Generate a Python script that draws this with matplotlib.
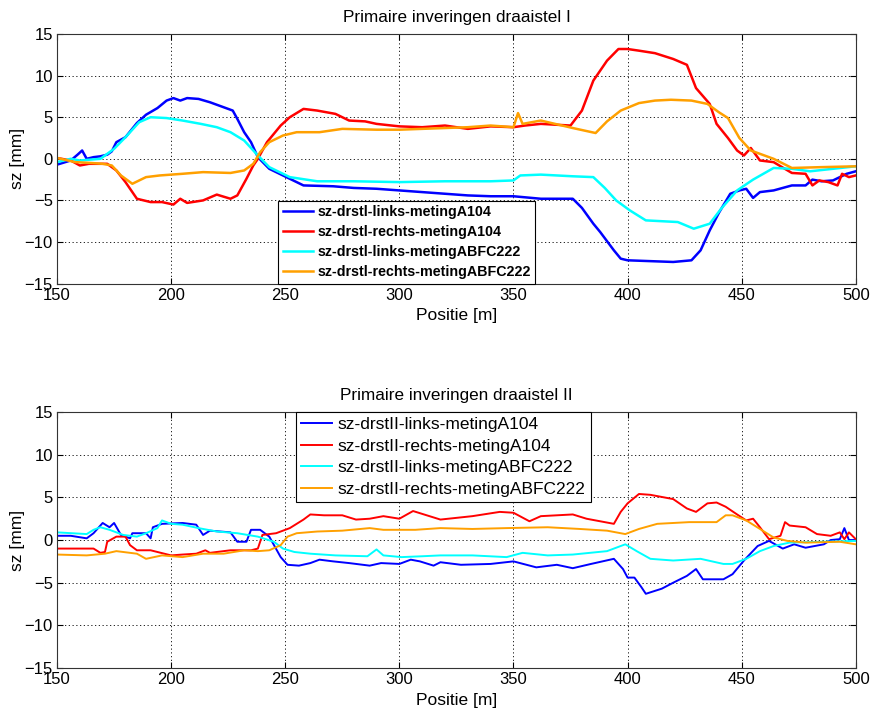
import matplotlib
matplotlib.use("Agg")
import matplotlib.pyplot as plt

plt.rcParams["font.family"] = ["Liberation Sans", "DejaVu Sans"]

# ---- draaistel I ----
top_blue_pos = [150, 156, 159, 161, 163, 166, 169, 172, 174, 176, 180, 185, 189, 194, 198, 201,
                204, 207, 212, 217, 223, 227, 229, 232, 235, 238, 243, 252, 258, 271, 280, 290,
                300, 310, 320, 330, 340, 350, 362, 376, 380, 385, 388, 394, 397, 400, 410, 420,
                428, 432, 436, 440, 445, 449, 452, 455, 458, 464, 472, 478, 481, 485, 490, 496, 500]
top_blue_val = [-0.7, -0.2, 0.5, 1.0, 0.0, 0.2, 0.3, 0.5, 0.9, 2.0, 2.6, 4.3, 5.3, 6.1, 7.0, 7.3,
                7.0, 7.3, 7.2, 6.8, 6.2, 5.8, 4.8, 3.2, 2.0, 0.2, -1.2, -2.4, -3.2, -3.3, -3.5, -3.6,
                -3.8, -4.0, -4.2, -4.4, -4.5, -4.5, -4.8, -4.8, -5.9, -7.8, -8.8, -11.0, -12.0, -12.2, -12.3, -12.4,
                -12.2, -11.0, -8.6, -6.5, -4.2, -3.8, -3.6, -4.7, -4.0, -3.8, -3.2, -3.2, -2.5, -2.7, -2.6, -1.8, -1.5]

top_red_pos = [150, 156, 160, 164, 172, 176, 180, 185, 191, 196, 201, 204, 207, 214, 220, 226,
               229, 233, 236, 238, 242, 248, 252, 258, 264, 272, 278, 285, 290, 300, 310, 320,
               330, 340, 350, 355, 362, 375, 380, 385, 391, 396, 400, 405, 412, 420, 426, 430,
               436, 439, 444, 448, 451, 454, 458, 464, 472, 478, 481, 484, 488, 492, 494, 497, 500]
top_red_val = [0.1, -0.2, -0.8, -0.6, -0.6, -1.4, -2.8, -4.8, -5.2, -5.2, -5.5, -4.8, -5.3, -5.0, -4.3, -4.8,
               -4.4, -2.4, -0.8, 0.0, 2.0, 4.0, 5.0, 6.0, 5.8, 5.4, 4.6, 4.5, 4.2, 3.9, 3.8, 4.0,
               3.6, 3.9, 3.8, 4.0, 4.2, 4.0, 5.8, 9.4, 11.8, 13.2, 13.2, 13.0, 12.7, 12.0, 11.3, 8.5,
               6.6, 4.2, 2.5, 1.0, 0.4, 1.3, -0.2, -0.4, -1.7, -1.8, -3.2, -2.6, -2.8, -3.2, -1.8, -2.2, -2.0]

top_cyan_pos = [150, 156, 160, 169, 175, 180, 186, 191, 198, 205, 213, 220, 226, 232, 238, 243,
                252, 264, 280, 300, 320, 340, 350, 353, 362, 376, 385, 390, 395, 401, 408, 415,
                422, 429, 436, 441, 448, 455, 464, 472, 480, 490, 500]
top_cyan_val = [-0.4, 0.0, -0.2, 0.0, 1.2, 2.6, 4.4, 5.0, 4.9, 4.6, 4.2, 3.8, 3.2, 2.2, 0.4, -1.0,
                -2.2, -2.7, -2.7, -2.8, -2.7, -2.7, -2.6, -2.0, -1.9, -2.1, -2.2, -3.5, -5.0, -6.2, -7.4, -7.5,
                -7.6, -8.4, -7.8, -6.0, -3.8, -2.5, -1.1, -1.2, -1.5, -1.2, -0.9]

top_orange_pos = [150, 158, 165, 170, 174, 178, 183, 189, 195, 205, 214, 226, 232, 236, 239, 243,
                  249, 255, 265, 275, 290, 300, 310, 320, 330, 340, 350, 352, 354, 362, 376, 386,
                  391, 397, 405, 412, 419, 428, 435, 440, 444, 449, 454, 464, 472, 485, 500]
top_orange_val = [0.1, -0.4, -0.5, -0.6, -0.8, -2.0, -3.0, -2.2, -2.0, -1.8, -1.6, -1.7, -1.4, -0.6, 0.8, 2.0,
                  2.8, 3.2, 3.2, 3.6, 3.5, 3.5, 3.6, 3.7, 3.8, 4.0, 3.8, 5.5, 4.2, 4.6, 3.7, 3.1,
                  4.5, 5.8, 6.7, 7.0, 7.1, 7.0, 6.6, 5.6, 4.9, 2.5, 1.0, 0.0, -1.1, -1.0, -0.9]

# ---- draaistel II ----
bot_blue_pos = [150, 156, 163, 166, 170, 173, 175, 178, 182, 183, 189, 191, 192, 196, 205, 211,
                214, 217, 226, 229, 233, 235, 239, 243, 248, 251, 256, 261, 265, 271, 278, 287,
                292, 300, 305, 309, 315, 318, 327, 340, 350, 360, 369, 376, 384, 394, 398, 400,
                403, 406, 408, 415, 420, 426, 430, 433, 442, 446, 451, 457, 462, 468, 473, 478,
                486, 489, 493, 495, 497, 500]
bot_blue_val = [0.5, 0.5, 0.2, 0.8, 2.0, 1.5, 2.0, 0.6, 0.2, 0.8, 0.8, 0.2, 1.5, 1.9, 2.0, 1.8,
                0.6, 1.1, 0.9, -0.2, -0.2, 1.2, 1.2, 0.4, -2.0, -2.9, -3.0, -2.7, -2.3, -2.5, -2.7, -3.0,
                -2.7, -2.8, -2.3, -2.5, -3.0, -2.6, -2.9, -2.8, -2.5, -3.2, -2.9, -3.3, -2.8, -2.2, -3.4, -4.4,
                -4.4, -5.5, -6.3, -5.7, -5.0, -4.2, -3.4, -4.6, -4.6, -4.0, -2.4, -0.7, -0.1, -1.0, -0.5, -0.9,
                -0.5, 0.0, 0.1, 1.4, 0.0, 0.0]

bot_red_pos = [150, 163, 166, 169, 171, 172, 176, 180, 182, 185, 191, 194, 200, 205, 211, 215,
               217, 226, 235, 238, 240, 246, 252, 258, 261, 267, 275, 281, 287, 293, 300, 306,
               312, 318, 332, 344, 350, 357, 362, 376, 382, 394, 397, 400, 405, 410, 420, 426,
               430, 435, 439, 443, 448, 452, 455, 458, 462, 467, 469, 471, 478, 483, 489, 493,
               495, 497, 500]
bot_red_val = [-1.0, -1.0, -1.0, -1.5, -1.4, -0.2, 0.4, 0.4, -0.6, -1.2, -1.2, -1.4, -1.8, -1.7, -1.6, -1.2,
               -1.5, -1.2, -1.2, -1.0, 0.6, 0.8, 1.4, 2.4, 3.0, 2.9, 2.9, 2.4, 2.5, 2.8, 2.5, 3.4,
               2.9, 2.4, 2.8, 3.3, 3.2, 2.2, 2.8, 3.0, 2.5, 1.9, 3.3, 4.3, 5.4, 5.3, 4.8, 3.7,
               3.3, 4.3, 4.4, 3.9, 3.0, 2.3, 2.5, 1.5, 0.1, 0.5, 2.1, 1.7, 1.5, 0.7, 0.5, 0.9,
               0.1, 0.9, 0.1]

bot_cyan_pos = [150, 163, 166, 169, 173, 179, 185, 189, 194, 196, 200, 205, 212, 220, 229, 238,
                245, 249, 254, 261, 272, 286, 290, 293, 301, 310, 318, 332, 347, 354, 365, 376,
                391, 399, 404, 410, 420, 432, 442, 446, 452, 458, 464, 471, 486, 500]
bot_cyan_val = [0.9, 0.7, 1.2, 1.5, 1.2, 0.6, 0.4, 0.8, 1.4, 2.3, 1.9, 1.8, 1.4, 1.0, 0.8, 0.4,
                -0.2, -1.0, -1.4, -1.6, -1.8, -1.9, -1.1, -1.8, -2.0, -1.9, -1.8, -1.8, -2.0, -1.5, -1.8, -1.7,
                -1.3, -0.5, -1.3, -2.2, -2.4, -2.2, -2.8, -2.8, -2.2, -1.3, -0.7, -0.3, -0.2, -0.1]

bot_orange_pos = [150, 163, 171, 176, 185, 189, 196, 205, 214, 223, 232, 238, 243, 248, 251, 255,
                  264, 275, 287, 293, 307, 318, 332, 347, 365, 379, 391, 399, 405, 413, 427, 439,
                  443, 446, 452, 458, 464, 470, 478, 493, 500]
bot_orange_val = [-1.7, -1.8, -1.6, -1.3, -1.6, -2.2, -1.8, -2.0, -1.6, -1.6, -1.2, -1.3, -1.2, -0.6, 0.4, 0.8,
                  1.0, 1.1, 1.4, 1.2, 1.2, 1.4, 1.3, 1.4, 1.5, 1.3, 1.1, 0.7, 1.3, 1.9, 2.1, 2.1,
                  2.9, 2.9, 2.3, 1.3, 0.3, -0.1, -0.3, -0.2, -0.5]

BLUE = "#0000ff"
RED = "#ff0000"
CYAN = "#00ffff"
ORANGE = "#ffa000"


def style_axes(ax, title):
    ax.set_xlim(150, 500)
    ax.set_ylim(-15, 15)
    ax.set_xticks(range(150, 501, 50))
    ax.set_yticks(range(-15, 16, 5))
    ax.grid(True, color="black", linestyle=(0, (1.5, 3)), linewidth=0.6)
    ax.tick_params(direction="in", top=True, right=True, length=4, labelsize=12, pad=3)
    for sp in ax.spines.values():
        sp.set_color("#333333")
        sp.set_linewidth(0.8)
    ax.set_title(title, fontsize=12.3, pad=9)
    ax.set_xlabel("Positie [m]", fontsize=12.5, labelpad=4)
    ax.set_ylabel("sz [mm]", fontsize=12.5, labelpad=0)


fig = plt.figure(figsize=(8.72, 7.09), dpi=100)

ax1 = fig.add_axes([0.0654, 0.600, 0.916, 0.352])
ax1.plot(top_blue_pos, top_blue_val, color=BLUE, linewidth=1.8, label="sz-drstl-links-metingA104")
ax1.plot(top_red_pos, top_red_val, color=RED, linewidth=1.8, label="sz-drstl-rechts-metingA104")
ax1.plot(top_cyan_pos, top_cyan_val, color=CYAN, linewidth=1.8, label="sz-drstl-links-metingABFC222")
ax1.plot(top_orange_pos, top_orange_val, color=ORANGE, linewidth=1.8, label="sz-drstl-rechts-metingABFC222")
style_axes(ax1, "Primaire inveringen draaistel I")
leg1 = ax1.legend(loc="lower left", bbox_to_anchor=(0.277, 0.0), borderaxespad=0,
                  prop={"size": 10.3, "weight": "bold"}, handlelength=2.1, labelspacing=0.42,
                  borderpad=0.3, handletextpad=0.35, fancybox=False, framealpha=1)
leg1.get_frame().set_edgecolor("black")
leg1.get_frame().set_linewidth(0.8)

ax2 = fig.add_axes([0.0654, 0.0578, 0.916, 0.361])
ax2.plot(bot_blue_pos, bot_blue_val, color=BLUE, linewidth=1.4, label="sz-drstII-links-metingA104")
ax2.plot(bot_red_pos, bot_red_val, color=RED, linewidth=1.4, label="sz-drstII-rechts-metingA104")
ax2.plot(bot_cyan_pos, bot_cyan_val, color=CYAN, linewidth=1.4, label="sz-drstII-links-metingABFC222")
ax2.plot(bot_orange_pos, bot_orange_val, color=ORANGE, linewidth=1.4, label="sz-drstII-rechts-metingABFC222")
style_axes(ax2, "Primaire inveringen draaistel II")
leg2 = ax2.legend(loc="upper left", bbox_to_anchor=(0.299, 1.0), borderaxespad=0,
                  prop={"size": 12.5}, handlelength=1.8, labelspacing=0.36,
                  borderpad=0.3, handletextpad=0.3, fancybox=False, framealpha=1)
leg2.get_frame().set_edgecolor("black")
leg2.get_frame().set_linewidth(0.8)

fig.savefig("out.png", dpi=100)
